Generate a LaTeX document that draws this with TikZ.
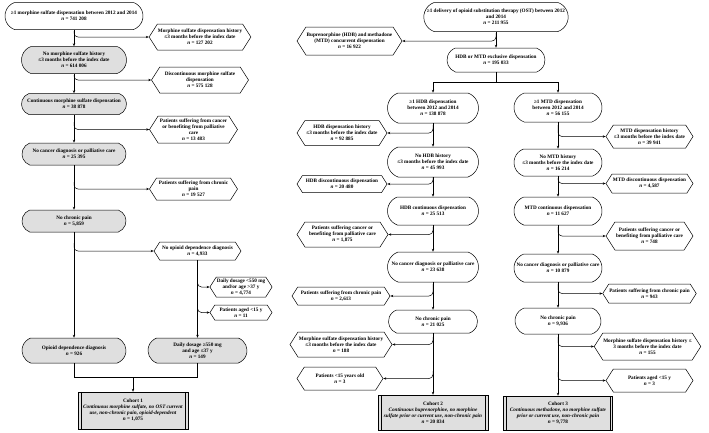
\documentclass[tikz,border=0pt]{standalone}
\usepackage{fontspec}
\setmainfont{Liberation Serif}
\usetikzlibrary{shapes.symbols,shapes.misc,arrows.meta}
\begin{document}
\begin{tikzpicture}[x=1pt,y=-1pt,
  every node/.style={font=\fontsize{5.2}{6}\selectfont\bfseries, align=center, inner sep=1pt},
  rb/.style 2 args={draw, fill=white, rounded rectangle, rounded rectangle arc length=140, minimum width=#1pt, minimum height=#2pt},
  rg/.style 2 args={rb={#1}{#2}, fill=gray!25},
  hx/.style 2 args={draw, fill=white, signal, signal to=west and east, signal pointer angle=115, minimum width=#1pt, minimum height=#2pt, inner sep=0.5pt},
  co/.style 2 args={draw, fill=gray!25, rectangle, minimum width=#1pt, minimum height=#2pt},
  arr/.style={-{Stealth[length=3pt,width=2.4pt]}},
  br/.style={arr, rounded corners=4pt},
  line width=0.5pt]
\useasboundingbox (0,0) rectangle (709,432);
% ---------- left part ----------
\node[rb={140}{27}] (A) at (74,16) {≥1 morphine sulfate dispensation between 2012 and 2014\\ \textit{n} = 741 208};
\node[hx={97}{26}] (h1) at (200,37) {Morphine sulfate dispensation history\\ ≤3 months before the index date\\ \textit{n} = 127 202};
\node[rg={107}{27}] (B) at (74,60) {No morphine sulfate history\\ ≤3 months before the index date\\ \textit{n} = 614 006};
\node[hx={97}{26}] (h2) at (200,80) {Discontinuous morphine sulfate\\ dispensation\\ \textit{n} = 575 128};
\node[rg={107}{21}] (C) at (74,104) {Continuous morphine sulfate dispensation\\ \textit{n} = 38 878};
\node[hx={88}{27}] (h3) at (193.5,129.5) {Patients suffering from cancer\\ or benefiting from palliative\\ care\\ \textit{n} = 13 483};
\node[rg={106}{22}] (D) at (74,154) {No cancer diagnosis or palliative care\\ \textit{n} = 25 395};
\node[hx={88}{22}] (h4) at (193.5,189) {Patients suffering from chronic\\ pain\\ \textit{n} = 19 527};
\node[rg={106}{22}] (E) at (74,221) {No chronic pain\\ \textit{n} = 5,859};
\node[hx={87}{18}] (h5) at (197.5,251) {No opioid dependence diagnosis\\ \textit{n} = 4,933};
\node[hx={62}{20}] (h6) at (241,287) {Daily dosage <550 mg\\ and/or age >37 y\\ \textit{n} = 4,774};
\node[hx={62}{15}] (h7) at (241,312.5) {Patients aged <15 y\\ \textit{n} = 11};
\node[rg={106}{25}] (F) at (74,350.5) {Opioid dependence diagnosis\\ \textit{n} = 926};
\node[rg={101}{25}] (G) at (197.5,350.5) {Daily dosage ≥550 mg\\ and age ≤37 y\\ \textit{n} = 149};
\node[co={110}{37}] (K1) at (133,410.5) {Cohort 1\\ \textit{Continuous morphine sulfate, no OST current}\\ \textit{use, non-chronic pain, opioid-dependent}\\ \textit{n} = 1,075};
\draw[arr] (A.south) -- (B.north);
\draw[arr] (B.south) -- (C.north);
\draw[arr] (C.south) -- (D.north);
\draw[arr] (D.south) -- (E.north);
\draw[arr] (E.south) -- (F.north);
\coordinate (a1) at (74,31);  \draw[br] (a1) |- (h1.west);
\coordinate (a2) at (74,75);  \draw[br] (a2) |- (h2.west);
\coordinate (a3) at (74,122); \draw[br] (a3) |- (h3.west);
\coordinate (a4) at (74,182); \draw[br] (a4) |- (h4.west);
\coordinate (a5) at (74,243); \draw[br] (a5) |- (h5.west);
\draw[arr] (h5.south) -- (G.north);
\coordinate (a6) at (197.5,279); \draw[br] (a6) |- (h6.west);
\coordinate (a7) at (197.5,306); \draw[br] (a7) |- (h7.west);
\coordinate (m1) at (133,377);
\draw (F.south) |- (m1);
\draw (G.south) |- (m1);
\draw[arr] (m1) -- (K1.north);
% ---------- right part ----------
\node[rb={144}{29}] (H) at (496,17) {≥1 delivery of opioid substitution therapy (OST) between 2012\\ and 2014\\ \textit{n} = 211 955};
\node[hx={105}{28}] (hL) at (349.5,41) {Buprenorphine (HDB) and methadone\\ (MTD) concurrent dispensation\\ \textit{n} = 16 922};
\node[rb={100}{24}] (I) at (496,60) {HDB or MTD exclusive dispensation\\ \textit{n} = 195 033};
\draw[arr] (H.south) -- (I.north);
\coordinate (hb) at (496,33); \draw[br] (hb) |- (hL.east);
% HDB column
\node[rb={93}{30}] (J) at (433,108) {≥1 HDB dispensation\\ between 2012 and 2014\\ \textit{n} = 138 878};
\node[hx={90}{25}] (j1) at (342,133) {HDB dispensation history\\ ≤3 months before the index date\\ \textit{n} = 92 885};
\node[rb={93}{30}] (L) at (433,162) {No HDB history\\ ≤3 months before the index date\\ \textit{n} = 45 993};
\node[hx={90}{17}] (j2) at (342,184) {HDB discontinuous dispensation\\ \textit{n} = 20 480};
\node[rb={93}{28}] (M) at (433,211) {HDB continuous dispensation\\ \textit{n} = 25 513};
\node[hx={91}{25}] (j3) at (342.5,234.5) {Patients suffering cancer or\\ benefiting from palliative care\\ \textit{n} = 1,875};
\node[rb={93}{30}] (N) at (433,267) {No cancer diagnosis or palliative care\\ \textit{n} = 23 638};
\node[hx={98}{18}] (j4) at (341,296) {Patients suffering from chronic pain\\ \textit{n} = 2,613};
\node[rb={91}{23}] (O) at (433,321.5) {No chronic pain\\ \textit{n} = 21 025};
\node[hx={102}{25}] (j5) at (341,344.5) {Morphine sulfate dispensation history\\ ≤3 months before the index date\\ \textit{n} = 188};
\node[hx={86}{23}] (j6) at (340,378.5) {Patients <15 years old\\ \textit{n} = 3};
\node[co={110}{35}] (K2) at (433,412.5) {Cohort 2\\ \textit{Continuous buprenorphine, no morphine}\\ \textit{sulfate prior or current use, non-chronic pain}\\ \textit{n} = 20 834};
% MTD column
\node[rb={90}{29}] (P) at (558,107.5) {≥1 MTD dispensation\\ between 2012 and 2014\\ \textit{n} = 56 155};
\node[hx={87}{23}] (k1) at (649.5,136.5) {MTD dispensation history\\ ≤3 months before the index date\\ \textit{n} = 39 941};
\node[rb={90}{27}] (Q) at (558,162.5) {No MTD history\\ ≤3 months before the index date\\ \textit{n} = 16 214};
\node[hx={87}{19}] (k2) at (649.5,183.5) {MTD discontinuous dispensation\\ \textit{n} = 4,587};
\node[rb={90}{28}] (R) at (558,211) {MTD continuous dispensation\\ \textit{n} = 11 627};
\node[hx={87}{28}] (k3) at (649.5,236) {Patients suffering cancer or\\ benefiting from palliative care\\ \textit{n} = 748};
\node[rb={90}{28}] (S) at (558,268) {No cancer diagnosis or palliative care\\ \textit{n} = 10 879};
\node[hx={87}{19}] (k4) at (649.5,293.5) {Patients suffering from chronic pain\\ \textit{n} = 943};
\node[rb={88}{26}] (T) at (558,321) {No chronic pain\\ \textit{n} = 9,936};
\node[hx={91}{27}] (k5) at (647.5,346.5) {Morphine sulfate dispensation history ≤\\ 3 months before the index date\\ \textit{n} = 155};
\node[hx={87}{23}] (k6) at (649.5,380.5) {Patients aged <15 y\\ \textit{n} = 3};
\node[co={109}{34}] (K3) at (558,413) {Cohort 3\\ \textit{Continuous methadone, no morphine sulfate}\\ \textit{prior or current use, non-chronic pain}\\ \textit{n} = 9,778};
\coordinate (sp) at (496,82);
\draw (I.south) -- (sp);
\draw[arr] (sp) -| (J.north);
\draw[arr] (sp) -| (P.north);
\draw[arr] (J.south) -- (L.north);
\draw[arr] (L.south) -- (M.north);
\draw[arr] (M.south) -- (N.north);
\draw[arr] (N.south) -- (O.north);
\draw[arr] (O.south) -- (K2.north);
\coordinate (c1) at (433,125); \draw[br] (c1) |- (j1.east);
\coordinate (c2) at (433,177); \draw[br] (c2) |- (j2.east);
\coordinate (c3) at (433,227); \draw[br] (c3) |- (j3.east);
\coordinate (c4) at (433,284); \draw[br] (c4) |- (j4.east);
\coordinate (c5) at (433,337); \draw[br] (c5) |- (j5.east);
\coordinate (c6) at (433,371); \draw[br] (c6) |- (j6.east);
\draw[arr] (P.south) -- (Q.north);
\draw[arr] (Q.south) -- (R.north);
\draw[arr] (R.south) -- (S.north);
\draw[arr] (S.south) -- (T.north);
\draw[arr] (T.south) -- (K3.north);
\coordinate (d1) at (558,125); \draw[br] (d1) |- (k1.west);
\coordinate (d2) at (558,178); \draw[br] (d2) |- (k2.west);
\coordinate (d3) at (558,227); \draw[br] (d3) |- (k3.west);
\coordinate (d4) at (558,284); \draw[br] (d4) |- (k4.west);
\coordinate (d5) at (558,337); \draw[br] (d5) |- (k5.west);
\coordinate (d6) at (558,372); \draw[br] (d6) |- (k6.west);
\foreach \c in {K1,K2,K3} {
  \draw ([xshift=3pt]\c.north west) -- ([xshift=3pt]\c.south west);
  \draw ([xshift=-3pt]\c.north east) -- ([xshift=-3pt]\c.south east);
}
\end{tikzpicture}
\end{document}
